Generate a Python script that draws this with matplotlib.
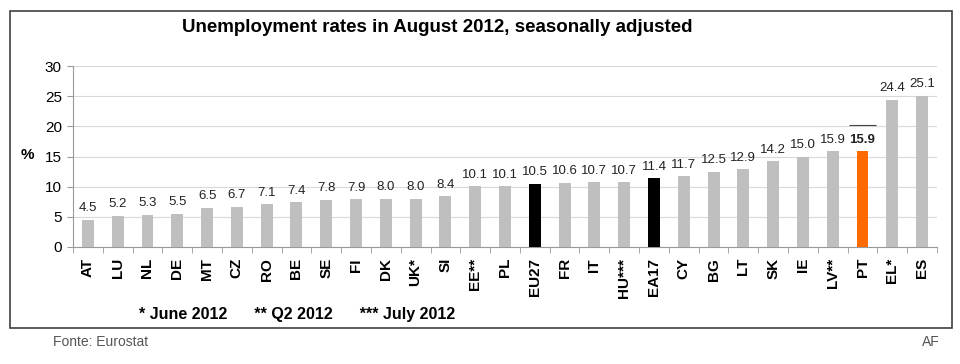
import matplotlib.pyplot as plt
from matplotlib.patches import Rectangle
import numpy as np

plt.rcParams['font.family'] = ['Liberation Sans', 'DejaVu Sans']

# Dados
paises = ['AT', 'LU', 'NL', 'DE', 'MT', 'CZ', 'RO', 'BE', 'SE', 'FI', 'DK', 'UK*', 'SI',
          'EE**', 'PL', 'EU27', 'FR', 'IT', 'HU***', 'EA17', 'CY', 'BG', 'LT', 'SK', 'IE',
          'LV**', 'PT', 'EL*', 'ES']
taxas = [4.5, 5.2, 5.3, 5.5, 6.5, 6.7, 7.1, 7.4, 7.8, 7.9, 8.0, 8.0, 8.4,
         10.1, 10.1, 10.5, 10.6, 10.7, 10.7, 11.4, 11.7, 12.5, 12.9, 14.2, 15.0,
         15.9, 15.9, 24.4, 25.1]
destaque_preto = ['EU27', 'EA17']
destaque_laranja = ['PT']

cores = []
for p in paises:
    if p in destaque_preto:
        cores.append('black')
    elif p in destaque_laranja:
        cores.append('#FF6A00')
    else:
        cores.append('#BFBFBF')

fig = plt.figure(figsize=(9.6, 3.64), dpi=100)
ax = fig.add_axes([73 / 960, 1 - 247 / 364, (937 - 73) / 960, (247 - 66) / 364])

x = np.arange(len(paises))
ax.bar(x, taxas, width=0.4, color=cores, zorder=3)

# Rotulos de valor
for i, (p, v) in enumerate(zip(paises, taxas)):
    bold = p in destaque_laranja
    ax.annotate(f'{v:.1f}', (i, v), xytext=(0, 4), textcoords='offset points',
                ha='center', va='bottom', fontsize=9.5,
                fontweight='bold' if bold else 'normal', color='#222222')
    if bold:
        ax.hlines(v + 4.3, i - 0.45, i + 0.45, color='#444444', linewidth=0.8)

ax.set_xlim(-0.5, len(paises) - 0.5)
ax.set_ylim(0, 30)
ax.set_yticks(range(0, 31, 5))
ax.yaxis.grid(True, color='#D9D9D9', linewidth=0.8, zorder=0)
ax.set_axisbelow(True)

ax.set_xticks(x)
ax.set_xticklabels(paises, rotation=90, fontweight='bold', fontsize=11)
ax.tick_params(axis='x', length=0, pad=8)
ax.set_xticks(np.arange(-0.5, len(paises), 1), minor=True)
ax.tick_params(axis='x', which='minor', length=4, color='#999999')
ax.tick_params(axis='y', labelsize=11, length=4, color='#999999', pad=4)

for s in ['top', 'right']:
    ax.spines[s].set_visible(False)
for s in ['left', 'bottom']:
    ax.spines[s].set_color('#999999')
    ax.spines[s].set_linewidth(0.8)

# Textos
fig.text(437 / 960, 1 - 28 / 364, 'Unemployment rates in August 2012, seasonally adjusted',
         ha='center', va='center', fontsize=13.5, fontweight='bold')
fig.text(27 / 960, 1 - 155 / 364, '%', ha='center', va='center', fontsize=11, fontweight='bold')
fig.text(297 / 960, 1 - 314 / 364, '* June 2012      ** Q2 2012      *** July 2012',
         ha='center', va='center', fontsize=11.5, fontweight='bold')
fig.text(53 / 960, 1 - 342 / 364, 'Fonte: Eurostat', ha='left', va='center',
         fontsize=10, color='#555555')
fig.text(940 / 960, 1 - 342 / 364, 'AF', ha='right', va='center',
         fontsize=10, color='#555555')

# Moldura
fig.patches.append(Rectangle((10 / 960, 1 - 328 / 364), 942 / 960, 317 / 364,
                             transform=fig.transFigure, fill=False,
                             edgecolor='#404040', linewidth=1.2))

plt.savefig('out.png', dpi=100)
